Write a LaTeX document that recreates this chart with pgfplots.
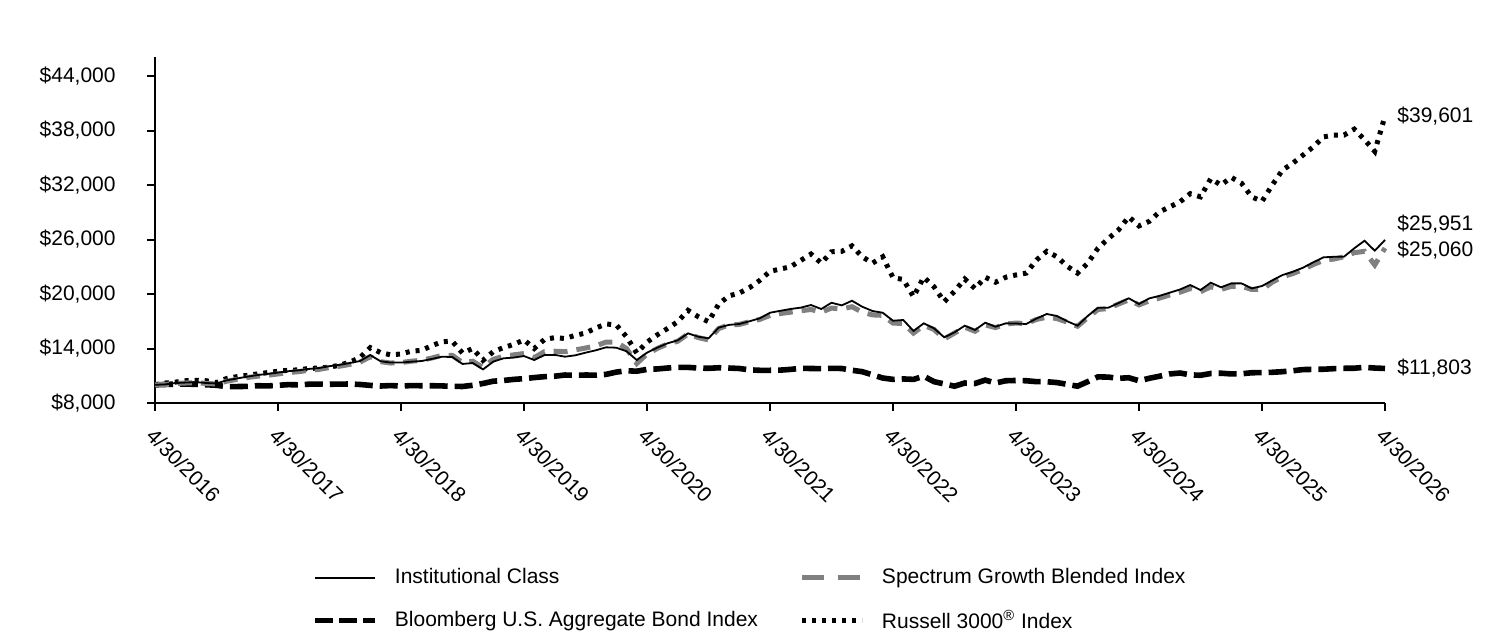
\documentclass[border=0pt]{standalone}
\usepackage{pgfplots}
\pgfplotsset{compat=1.18}
\usepackage{pgfplotstable}
\usepackage{fontspec}
\setmainfont{Liberation Sans}

\definecolor{specgray}{RGB}{128,128,128}

% Growth of a $10,000 investment, month-end values (m = months after 4/30/2016)
\pgfplotstableread{
m inst spec bond russ
0 10000 10000 10000 10000
1 10050 10030 10040 10200
2 10200 10150 10080 10300
3 10250 10200 10080 10450
4 10300 10250 10060 10500
5 10200 10150 10010 10450
6 10150 10100 9950 10250
7 10500 10400 9800 10700
8 10700 10600 9810 10900
9 10900 10800 9830 11050
10 11080 10950 9900 11200
11 11200 11050 9880 11350
12 11350 11200 9950 11500
13 11500 11350 10020 11600
14 11600 11450 10000 11650
15 11750 11600 10070 11800
16 11850 11700 10080 11850
17 12050 11900 10060 11950
18 12200 12050 10080 12150
19 12400 12250 10090 12500
20 12620 12500 10040 13000
21 13280 13100 9940 14100
22 12600 12550 9870 13550
23 12450 12400 9920 13300
24 12450 12450 9860 13400
25 12550 12600 9920 13700
26 12620 12700 9900 13800
27 12850 12950 9900 14300
28 13100 13250 9880 14750
29 13060 13250 9830 14800
30 12300 12450 9820 13500
31 12400 12600 9950 14000
32 11700 11900 10150 12700
33 12550 12800 10400 13650
34 12920 13150 10480 14100
35 13000 13300 10600 14450
36 13170 13450 10680 14950
37 12730 13000 10800 14000
38 13280 13650 10900 15000
39 13300 13700 10950 15200
40 13100 13650 11080 15100
41 13250 13850 11050 15450
42 13540 14050 11080 15700
43 13800 14300 11070 16250
44 14130 14700 11150 16700
45 14090 14700 11400 16600
46 13700 14000 11550 15300
47 12730 12350 11500 13500
48 13540 13400 11700 14700
49 14090 14000 11750 15500
50 14570 14500 11850 16200
51 14900 14800 11930 16950
52 15670 15600 11920 18200
53 15300 15200 11850 17500
54 15120 14950 11820 16950
55 16300 16200 11880 18900
56 16600 16600 11850 19800
57 16700 16650 11800 20100
58 17000 16950 11650 20700
59 17320 17200 11600 21500
60 17940 17650 11600 22500
61 18150 17850 11620 22750
62 18350 18000 11700 23000
63 18500 18150 11820 23700
64 18790 18300 11800 24400
65 18350 18000 11780 23400
66 19040 18450 11820 24650
67 18750 18350 11800 24700
68 19260 18600 11600 25300
69 18600 18000 11450 24100
70 18130 17700 11100 23400
71 17940 17650 10750 24100
72 17060 16800 10600 21800
73 17140 16750 10650 21600
74 15930 15700 10600 19700
75 16770 16550 10950 21850
76 16220 16100 10350 20800
77 15230 15050 10100 19150
78 15780 15700 9850 20300
79 16510 16350 10200 21650
80 16040 15900 10150 20600
81 16840 16600 10520 21850
82 16400 16300 10200 21300
83 16770 16700 10450 21850
84 16750 16800 10480 22100
85 16700 16750 10450 22300
86 17300 17200 10350 23750
87 17800 17450 10340 24700
88 17580 17300 10250 24100
89 17000 16900 10050 23050
90 16510 16450 9850 22300
91 17580 17400 10350 23400
92 18490 18300 10880 25050
93 18490 18400 10850 26100
94 19000 18900 10720 27050
95 19530 19350 10780 28500
96 18900 18800 10450 27500
97 19520 19250 10720 28000
98 19800 19550 10950 29050
99 20150 19900 11200 29600
100 20500 20200 11300 30150
101 20990 20600 11100 31050
102 20440 20250 11050 30700
103 21250 20800 11250 32700
104 20740 20500 11280 32000
105 21170 20850 11200 32850
106 21170 20850 11220 32200
107 20620 20500 11330 30700
108 20880 20500 11350 30200
109 21500 21300 11380 32000
110 22090 21900 11450 33650
111 22450 22250 11550 34400
112 22900 22700 11680 35300
113 23490 23250 11700 36200
114 24040 23700 11720 37300
115 24100 23850 11780 37500
116 24110 24100 11820 37500
117 25030 24550 11830 38150
118 25870 24700 11930 37000
119 24770 23200 11850 35700
120 25951 25060 11803 39601
}\growth

\begin{document}
\begin{tikzpicture}[font=\fontsize{10.5pt}{12.6pt}\selectfont]
\useasboundingbox (-77.5pt,-116.5pt) rectangle (678.5pt,201.5pt);
\begin{axis}[
  scale only axis,
  width=615pt, height=173pt,
  xmin=0, xmax=120, ymin=8000, ymax=46100,
  axis lines*=left,
  axis line style={line width=1pt},
  tick style={black, line width=1pt},
  tick align=outside,
  major tick length=4pt,
  scaled ticks=false,
  xtick={0,12,...,120},
  xticklabels={4/30/2016,4/30/2017,4/30/2018,4/30/2019,4/30/2020,4/30/2021,4/30/2022,4/30/2023,4/30/2024,4/30/2025,4/30/2026},
  ytick={8000,14000,20000,26000,32000,38000,44000},
  yticklabels={{\$8,000},{\$14,000},{\$20,000},{\$26,000},{\$32,000},{\$38,000},{\$44,000}},
  xticklabel style={xshift=0.5pt, yshift=-7.7pt, rotate=-45, anchor=north west, inner sep=0pt},
  yticklabel style={anchor=east, inner sep=0pt, xshift=-15.5pt},
  clip=false,
  legend columns=2,
  legend cell align=left,
  legend image code/.code={\draw[#1] (0pt,0pt) -- (30pt,0pt);},
  legend style={draw=none, at={(axis description cs:0.1276,-0.472)}, anchor=north west,
    row sep=9.5pt, inner sep=0pt,
    /tikz/every odd column/.append style={column sep=7.5pt},
    /tikz/every even column/.append style={column sep=20pt},
    nodes={inner sep=1pt}},
]
\addlegendimage{black, line width=0.9pt}
\addlegendentry{Institutional Class}
\addlegendimage{specgray, line width=2.5pt, dash pattern=on 11pt off 7pt}
\addlegendentry{Spectrum Growth Blended Index}
\addlegendimage{black, line width=2.8pt, dash pattern=on 9pt off 3pt}
\addlegendentry{Bloomberg U.S. Aggregate Bond Index}
\addlegendimage{black, line width=2.5pt, dash pattern=on 2pt off 3pt}
\addlegendentry{Russell 3000\textsuperscript{\textregistered} Index}

\addplot[forget plot, black, line width=2.8pt, dash pattern=on 9pt off 3.5pt] table[x=m, y=bond] {\growth};
\addplot[forget plot, black, line width=2.5pt, dash pattern=on 2pt off 3pt] table[x=m, y=russ] {\growth};
\addplot[forget plot, specgray, line width=2.5pt, dash pattern=on 7pt off 4.5pt] table[x=m, y=spec] {\growth};
\addplot[forget plot, black, line width=0.9pt] table[x=m, y=inst] {\growth};

\node[anchor=west, inner sep=0pt] at (axis cs:120,39601) [xshift=6pt] {\$39,601};
\node[anchor=west, inner sep=0pt] at (axis cs:120,25951) [xshift=6pt, yshift=8pt] {\$25,951};
\node[anchor=west, inner sep=0pt] at (axis cs:120,25060) [xshift=6pt, yshift=-1pt] {\$25,060};
\node[anchor=west, inner sep=0pt] at (axis cs:120,11803) [xshift=6pt] {\$11,803};
\end{axis}
\end{tikzpicture}
\end{document}
